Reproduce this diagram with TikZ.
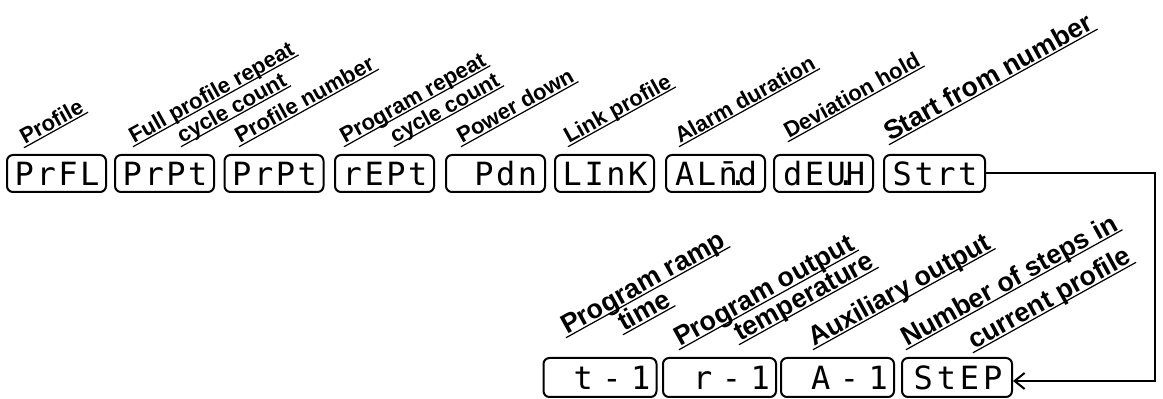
\documentclass[tikz,border=0pt]{standalone}
\usepackage{fontspec}
\setmainfont{Liberation Sans}
\newfontfamily\lcdfont{DejaVu Sans Mono}
\usetikzlibrary{calc,arrows.meta}

\begin{document}
\begin{tikzpicture}[x=0.5pt,y=-0.5pt,
  lcd/.style={draw, line width=1pt, rounded corners=3pt, minimum width=49.5pt,
    minimum height=18.5pt, inner sep=0pt,
    font=\lcdfont\fontsize{16}{16}\selectfont\addfontfeature{LetterSpace=8}},
  lcdwide/.style={lcd, minimum width=56.5pt, minimum height=19.5pt,
    font=\lcdfont\fontsize{16}{16}\selectfont\addfontfeature{LetterSpace=30}},
  tag/.style={rotate=29, anchor=base west, inner xsep=1pt, inner ysep=0pt,
    font=\bfseries\fontsize{11}{11}\selectfont},
  bigtag/.style={tag, font=\bfseries\fontsize{13.4}{13.4}\selectfont}]
\useasboundingbox (0,0) rectangle (1163,399);

% top row of displays
\node[lcd] (prfl) at (56.5,173.5) {\kern0.6pt PrFL};
\node[lcd] (frpt) at (164.5,173.5) {\kern0.6pt PrPt};
\node[lcd] (prpt) at (274,173.5) {\kern0.6pt PrPt};
\node[lcd] (rept) at (384.5,173.5) {\kern0.6pt rEPt};
\node[lcd] (pdn) at (495.5,173.5) {\kern0.6pt\phantom{P}Pdn};
\node[lcd] (link) at (604.5,173.5) {\kern0.6pt LInK};
\node[lcd] (almd) at (715.5,173.5) {\kern0.6pt AL\=n\makebox[0pt]{.}d};
\node[lcd] (devh) at (823.5,173.5) {\kern0.6pt dEU\makebox[0pt]{.}H};
\node[lcd, minimum width=50.5pt] (strt) at (934.5,173.5) {\kern0.6pt Strt};

% bottom row of displays
\node[lcdwide] (t1) at (600,377.5) {\kern2.4pt\phantom{0}t-1};
\node[lcdwide] (r1) at (719.5,377.5) {\kern2.4pt\phantom{0}r-1};
\node[lcdwide] (a1) at (837.5,377.5) {\kern2.4pt\phantom{0}A-1};
\node[lcd, minimum width=55pt, minimum height=19.5pt] (step) at (957,377.5)
  {\addfontfeature{LetterSpace=12}\kern1pt StEP};

\coordinate (turn) at (1155,381);
\draw[line width=1pt, -{Straight Barb[length=5pt,width=8pt]}]
      (strt.east) -| (turn) -- (step.east |- turn);

% labels
\node[tag] (l1) at (23,146) {Profile};
\node[tag] (l2) at (132,145) {Full profile repeat};
\node[tag] (l3) at (180,145) {cycle count};
\node[tag] (l4) at (238,145) {Profile number};
\node[tag] (l5) at (343,145) {Program repeat};
\node[tag] (l6) at (393,145) {cycle count};
\node[tag] (l7) at (460,145) {Power down};
\node[tag] (l8) at (567,145) {Link profile};
\node[tag] (l9) at (678,145) {Alarm duration};
\node[tag] (l10) at (787,140) {Deviation hold};
\node[bigtag] (l11) at (888,143) {Start from number};

\node[bigtag] (l12) at (565,336) {Program ramp};
\node[bigtag] (l13) at (622,333) {time};
\node[bigtag] (l14) at (678,348) {Program output};
\node[bigtag] (l15) at (738,343) {temperature};
\node[bigtag] (l16) at (812,348) {Auxiliary output};
\node[bigtag] (l17) at (905,348) {Number of steps in};
\node[bigtag] (l18) at (972,351) {current profile};

\foreach \i in {1,...,18}
  \draw[line width=0.6pt] ($(l\i.base west)!1pt!-90:(l\i.base east)$)
        -- ($(l\i.base east)!1pt!90:(l\i.base west)$);
\end{tikzpicture}
\end{document}
